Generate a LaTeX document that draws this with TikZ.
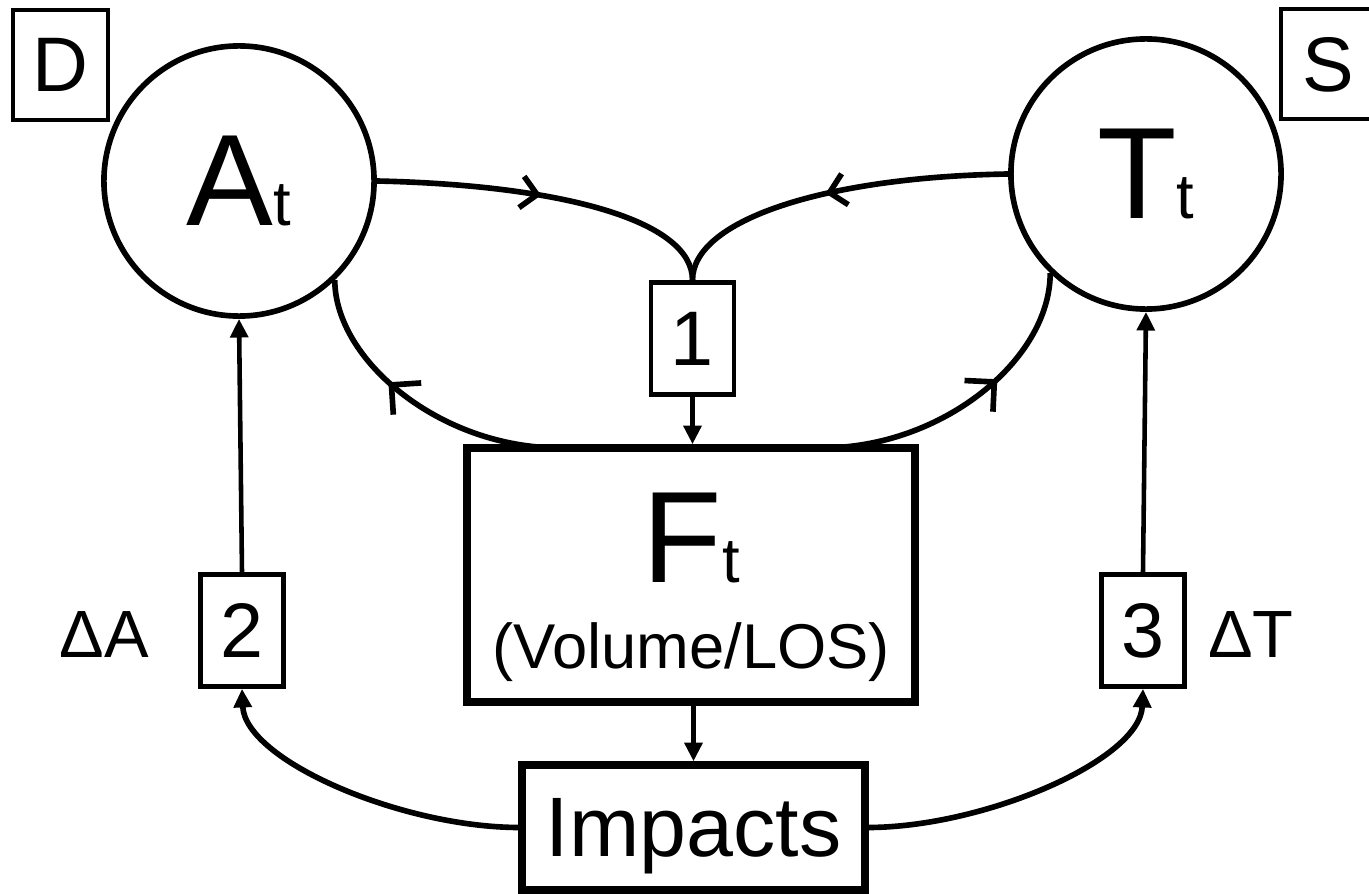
\documentclass[tikz,border=0pt]{standalone}
\usepackage{fontspec}
\setmainfont{Liberation Sans}
\usetikzlibrary{arrows.meta,decorations.markings}
\newcommand\myfs[1]{\fontsize{#1}{#1}\selectfont}
\begin{document}
\begin{tikzpicture}[x=0.01cm,y=-0.01cm,
  thinline/.style={line width=1.3pt},
  curveline/.style={line width=1.6pt},
  circ/.style={circle, draw, line width=1.6pt, minimum size=2.70cm, inner sep=0pt},
  smallbox/.style={draw, line width=1.3pt, minimum width=0.83cm, minimum height=1.12cm, inner sep=0pt, text depth=0pt, font=\myfs{22}},
  cornerbox/.style={draw, line width=1.3pt, minimum width=0.95cm, minimum height=1.10cm, inner sep=0pt, text depth=0pt, font=\myfs{22}},
  bigbox/.style={draw, line width=2.1pt, inner sep=0pt},
  tiparrow/.style={-{Triangle[length=5.3pt,width=5pt]}},
  chev/.style n args={2}{postaction={decorate}, decoration={markings, mark=at position #1 with {\draw[line width=1.6pt, line cap=butt, line join=miter] (-#2,#2) -- (0pt,0pt) -- (-#2,-#2);}}},
]
\useasboundingbox (0,0) rectangle (1369,894);
\clip (0,0) rectangle (1369,894);

% nodes
\node[circ] (A) at (239,181) {{\myfs{37}A}{\myfs{18}t}};
\node[circ] (T) at (1146,174) {{\myfs{37}T}{\myfs{18}t}};
\node[cornerbox] (D) at (60.5,65) {D};
\node[cornerbox] (S) at (1328.5,64) {S};
\node[smallbox] (b1) at (692.5,338.5) {1};
\node[smallbox] (b2) at (242,630.5) {2};
\node[smallbox] (b3) at (1143,630.5) {3};
\node[bigbox, minimum width=4.475cm, minimum height=2.54cm] (F) at (691,575) {};
\node[anchor=base, inner sep=0pt] (Fl) at (691.5,582) {{\myfs{37}F}{\myfs{18}t}};
\node[anchor=base, inner sep=0pt, font=\myfs{18}] (Fv) at (691,668) {(Volume/LOS)};
\node[bigbox, minimum width=3.43cm, minimum height=1.25cm, text depth=0pt, font=\myfs{24}] (I) at (693.5,827.5) {Impacts};
\node[anchor=base, inner sep=0pt, font=\myfs{19}] (dA) at (104,657) {ΔA};
\node[anchor=base, inner sep=0pt, font=\myfs{19}] (dT) at (1251,657) {ΔT};

\coordinate (FL) at (560,448);
\coordinate (FR) at (822,448);

% straight arrows
\draw[thinline, tiparrow] (b2.north) -- (A.south);
\draw[thinline, tiparrow] (b3.north) -- (T.south);
\draw[thinline, tiparrow] (b1.south) -- (b1.south |- F.north);
\draw[thinline, tiparrow] (I.north |- F.south) -- (I.north);

% top curves
\draw[curveline, chev={0.46}{4.5pt}] (A.east) .. controls (560,185) and (692.5,220) .. (b1.north);
\draw[curveline, chev={0.51}{4.5pt}] (T.west) .. controls (825,177) and (692.5,220) .. (b1.north);

% bottom curves
\draw[curveline, chev={0.6}{6pt}] (FL) .. controls (440,448) and (335,360) .. (A.-46);
\draw[curveline, chev={0.6}{6pt}] (FR) .. controls (942,448) and (1050,360) .. (T.-134);

% impacts arcs
\draw[curveline, tiparrow] (I.west) .. controls (400,827) and (245,760) .. (b2.south);
\draw[curveline, tiparrow] (I.east) .. controls (985,827) and (1140,760) .. (b3.south);
\end{tikzpicture}
\end{document}
